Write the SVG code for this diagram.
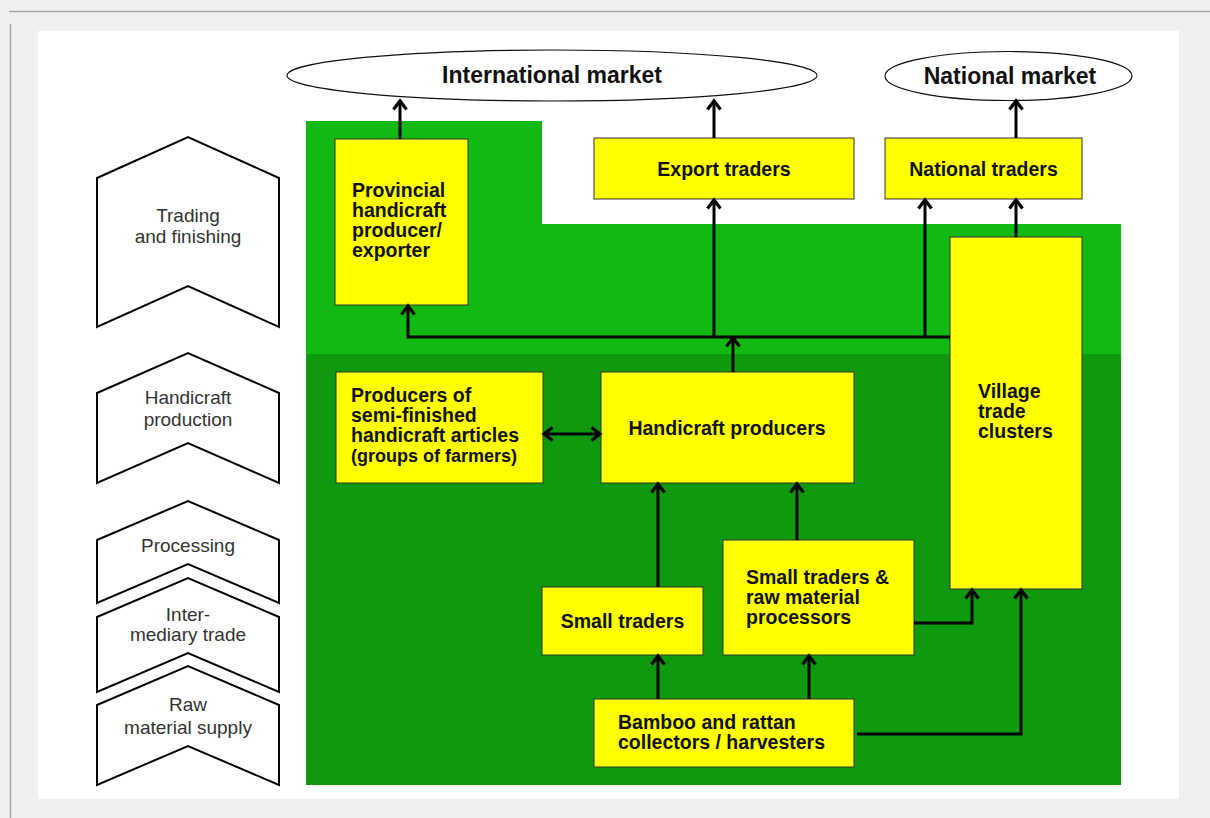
<svg xmlns="http://www.w3.org/2000/svg" width="1210" height="818" viewBox="0 0 1210 818">
<defs>
<style>
.chev{fill:#fff;stroke:#000;stroke-width:2;stroke-linejoin:miter}
.ctext{font-family:"Liberation Sans",Arial,sans-serif;font-size:19px;fill:#333;text-anchor:middle}
.box{fill:#ffff00;stroke:#333;stroke-width:1}
.btext{font-family:"Liberation Sans",Arial,sans-serif;font-size:19.5px;font-weight:bold;fill:#111}
.mid{text-anchor:middle}
.ell{fill:#fff;stroke:#111;stroke-width:1.2}
.mtext{font-family:"Liberation Sans",Arial,sans-serif;font-size:23px;font-weight:bold;fill:#111;text-anchor:middle}
.conn{fill:none;stroke:#000;stroke-width:3}
</style>
<marker id="ah" markerUnits="userSpaceOnUse" markerWidth="20" markerHeight="20" refX="10" refY="10" orient="auto-start-reverse" viewBox="0 0 20 20">
<path d="M1.5,3.5 L10,10 L1.5,16.5" fill="none" stroke="#000" stroke-width="3.2"/>
</marker>
</defs>
<rect x="0" y="0" width="1210" height="818" fill="#f0f0f0"/>
<line x1="9" y1="11.5" x2="1210" y2="11.5" stroke="#a6a6a6" stroke-width="1.5"/>
<line x1="10.5" y1="24" x2="10.5" y2="818" stroke="#a6a6a6" stroke-width="1.5"/>
<rect x="38" y="31" width="1141" height="768" fill="#fff"/>
<g id="bands">
<path d="M306,121 H542 V224 H1121 V354 H306 Z" fill="#13b913"/>
<rect x="306" y="354" width="815" height="431" fill="#0e990e"/>
</g>
<g id="stage-trading">
<path class="chev" d="M97,178 L188,137 L279,178 L279,327 L188,286 L97,327 Z"/>
<text class="ctext" x="188" y="222">Trading</text>
<text class="ctext" x="188" y="243">and finishing</text>
</g>
<g id="stage-production">
<path class="chev" d="M97,393 L188,353 L279,393 L279,483 L188,443 L97,483 Z"/>
<text class="ctext" x="188" y="404">Handicraft</text>
<text class="ctext" x="188" y="426">production</text>
</g>
<g id="stage-processing">
<path class="chev" d="M97,540 L188,501 L279,540 L279,603 L188,564 L97,603 Z"/>
<text class="ctext" x="188" y="552">Processing</text>
</g>
<g id="stage-intermediary">
<path class="chev" d="M97,617 L188,578 L279,617 L279,692 L188,653 L97,692 Z"/>
<text class="ctext" x="188" y="621">Inter-</text>
<text class="ctext" x="188" y="641">mediary trade</text>
</g>
<g id="stage-raw">
<path class="chev" d="M97,705 L188,666 L279,705 L279,785 L188,746 L97,785 Z"/>
<text class="ctext" x="188" y="711">Raw</text>
<text class="ctext" x="188" y="734">material supply</text>
</g>
<g id="international-market">
<ellipse class="ell" cx="552" cy="75.5" rx="265" ry="25.5"/>
<text class="mtext" x="552" y="83">International market</text>
</g>
<g id="national-market">
<ellipse class="ell" cx="1008.5" cy="76" rx="123.5" ry="24.5"/>
<text class="mtext" x="1010" y="84">National market</text>
</g>
<g id="provincial">
<rect class="box" x="335" y="139" width="133" height="166"/>
<text class="btext" x="352" y="197">Provincial</text>
<text class="btext" x="352" y="217">handicraft</text>
<text class="btext" x="352" y="237">producer/</text>
<text class="btext" x="352" y="257">exporter</text>
</g>
<g id="export-traders">
<rect class="box" x="594" y="138" width="260" height="61"/>
<text class="btext mid" x="724" y="176">Export traders</text>
</g>
<g id="national-traders">
<rect class="box" x="885" y="138" width="197" height="61"/>
<text class="btext mid" x="983.5" y="176">National traders</text>
</g>
<g id="village-trade-clusters">
<rect class="box" x="950" y="237" width="132" height="352"/>
<text class="btext" x="978" y="398">Village</text>
<text class="btext" x="978" y="418">trade</text>
<text class="btext" x="978" y="438">clusters</text>
</g>
<g id="semi-finished-producers">
<rect class="box" x="336" y="372" width="207" height="111"/>
<text class="btext" x="351" y="402">Producers of</text>
<text class="btext" x="351" y="422">semi-finished</text>
<text class="btext" x="351" y="442">handicraft articles</text>
<text class="btext" x="351" y="462" style="font-size:18px">(groups of farmers)</text>
</g>
<g id="handicraft-producers">
<rect class="box" x="601" y="372" width="253" height="111"/>
<text class="btext mid" x="727" y="435">Handicraft producers</text>
</g>
<g id="small-traders">
<rect class="box" x="542" y="587" width="161" height="68"/>
<text class="btext mid" x="622.5" y="628">Small traders</text>
</g>
<g id="small-traders-processors">
<rect class="box" x="723" y="540" width="191" height="115"/>
<text class="btext" x="746" y="584">Small traders &amp;</text>
<text class="btext" x="746" y="604">raw material</text>
<text class="btext" x="746" y="624">processors</text>
</g>
<g id="collectors">
<rect class="box" x="594" y="699" width="260" height="68"/>
<text class="btext" x="618" y="729">Bamboo and rattan</text>
<text class="btext" x="618" y="749">collectors / harvesters</text>
</g>
<g id="connectors">
<path class="conn" d="M400,139 V101" marker-end="url(#ah)"/>
<path class="conn" d="M714,138 V101" marker-end="url(#ah)"/>
<path class="conn" d="M1016,138 V101" marker-end="url(#ah)"/>
<path class="conn" d="M950,337 H408 V306" marker-end="url(#ah)"/>
<path class="conn" d="M714,337 V200" marker-end="url(#ah)"/>
<path class="conn" d="M925,337 V200" marker-end="url(#ah)"/>
<path class="conn" d="M1016,237 V200" marker-end="url(#ah)"/>
<path class="conn" d="M733,372 V338" marker-end="url(#ah)"/>
<path class="conn" d="M544,434 H600" marker-start="url(#ah)" marker-end="url(#ah)"/>
<path class="conn" d="M658,587 V484" marker-end="url(#ah)"/>
<path class="conn" d="M797,540 V484" marker-end="url(#ah)"/>
<path class="conn" d="M658,699 V656" marker-end="url(#ah)"/>
<path class="conn" d="M809,699 V656" marker-end="url(#ah)"/>
<path class="conn" d="M914,623 H972 V590" marker-end="url(#ah)"/>
<path class="conn" d="M857,734 H1021 V590" marker-end="url(#ah)"/>
</g>
</svg>
